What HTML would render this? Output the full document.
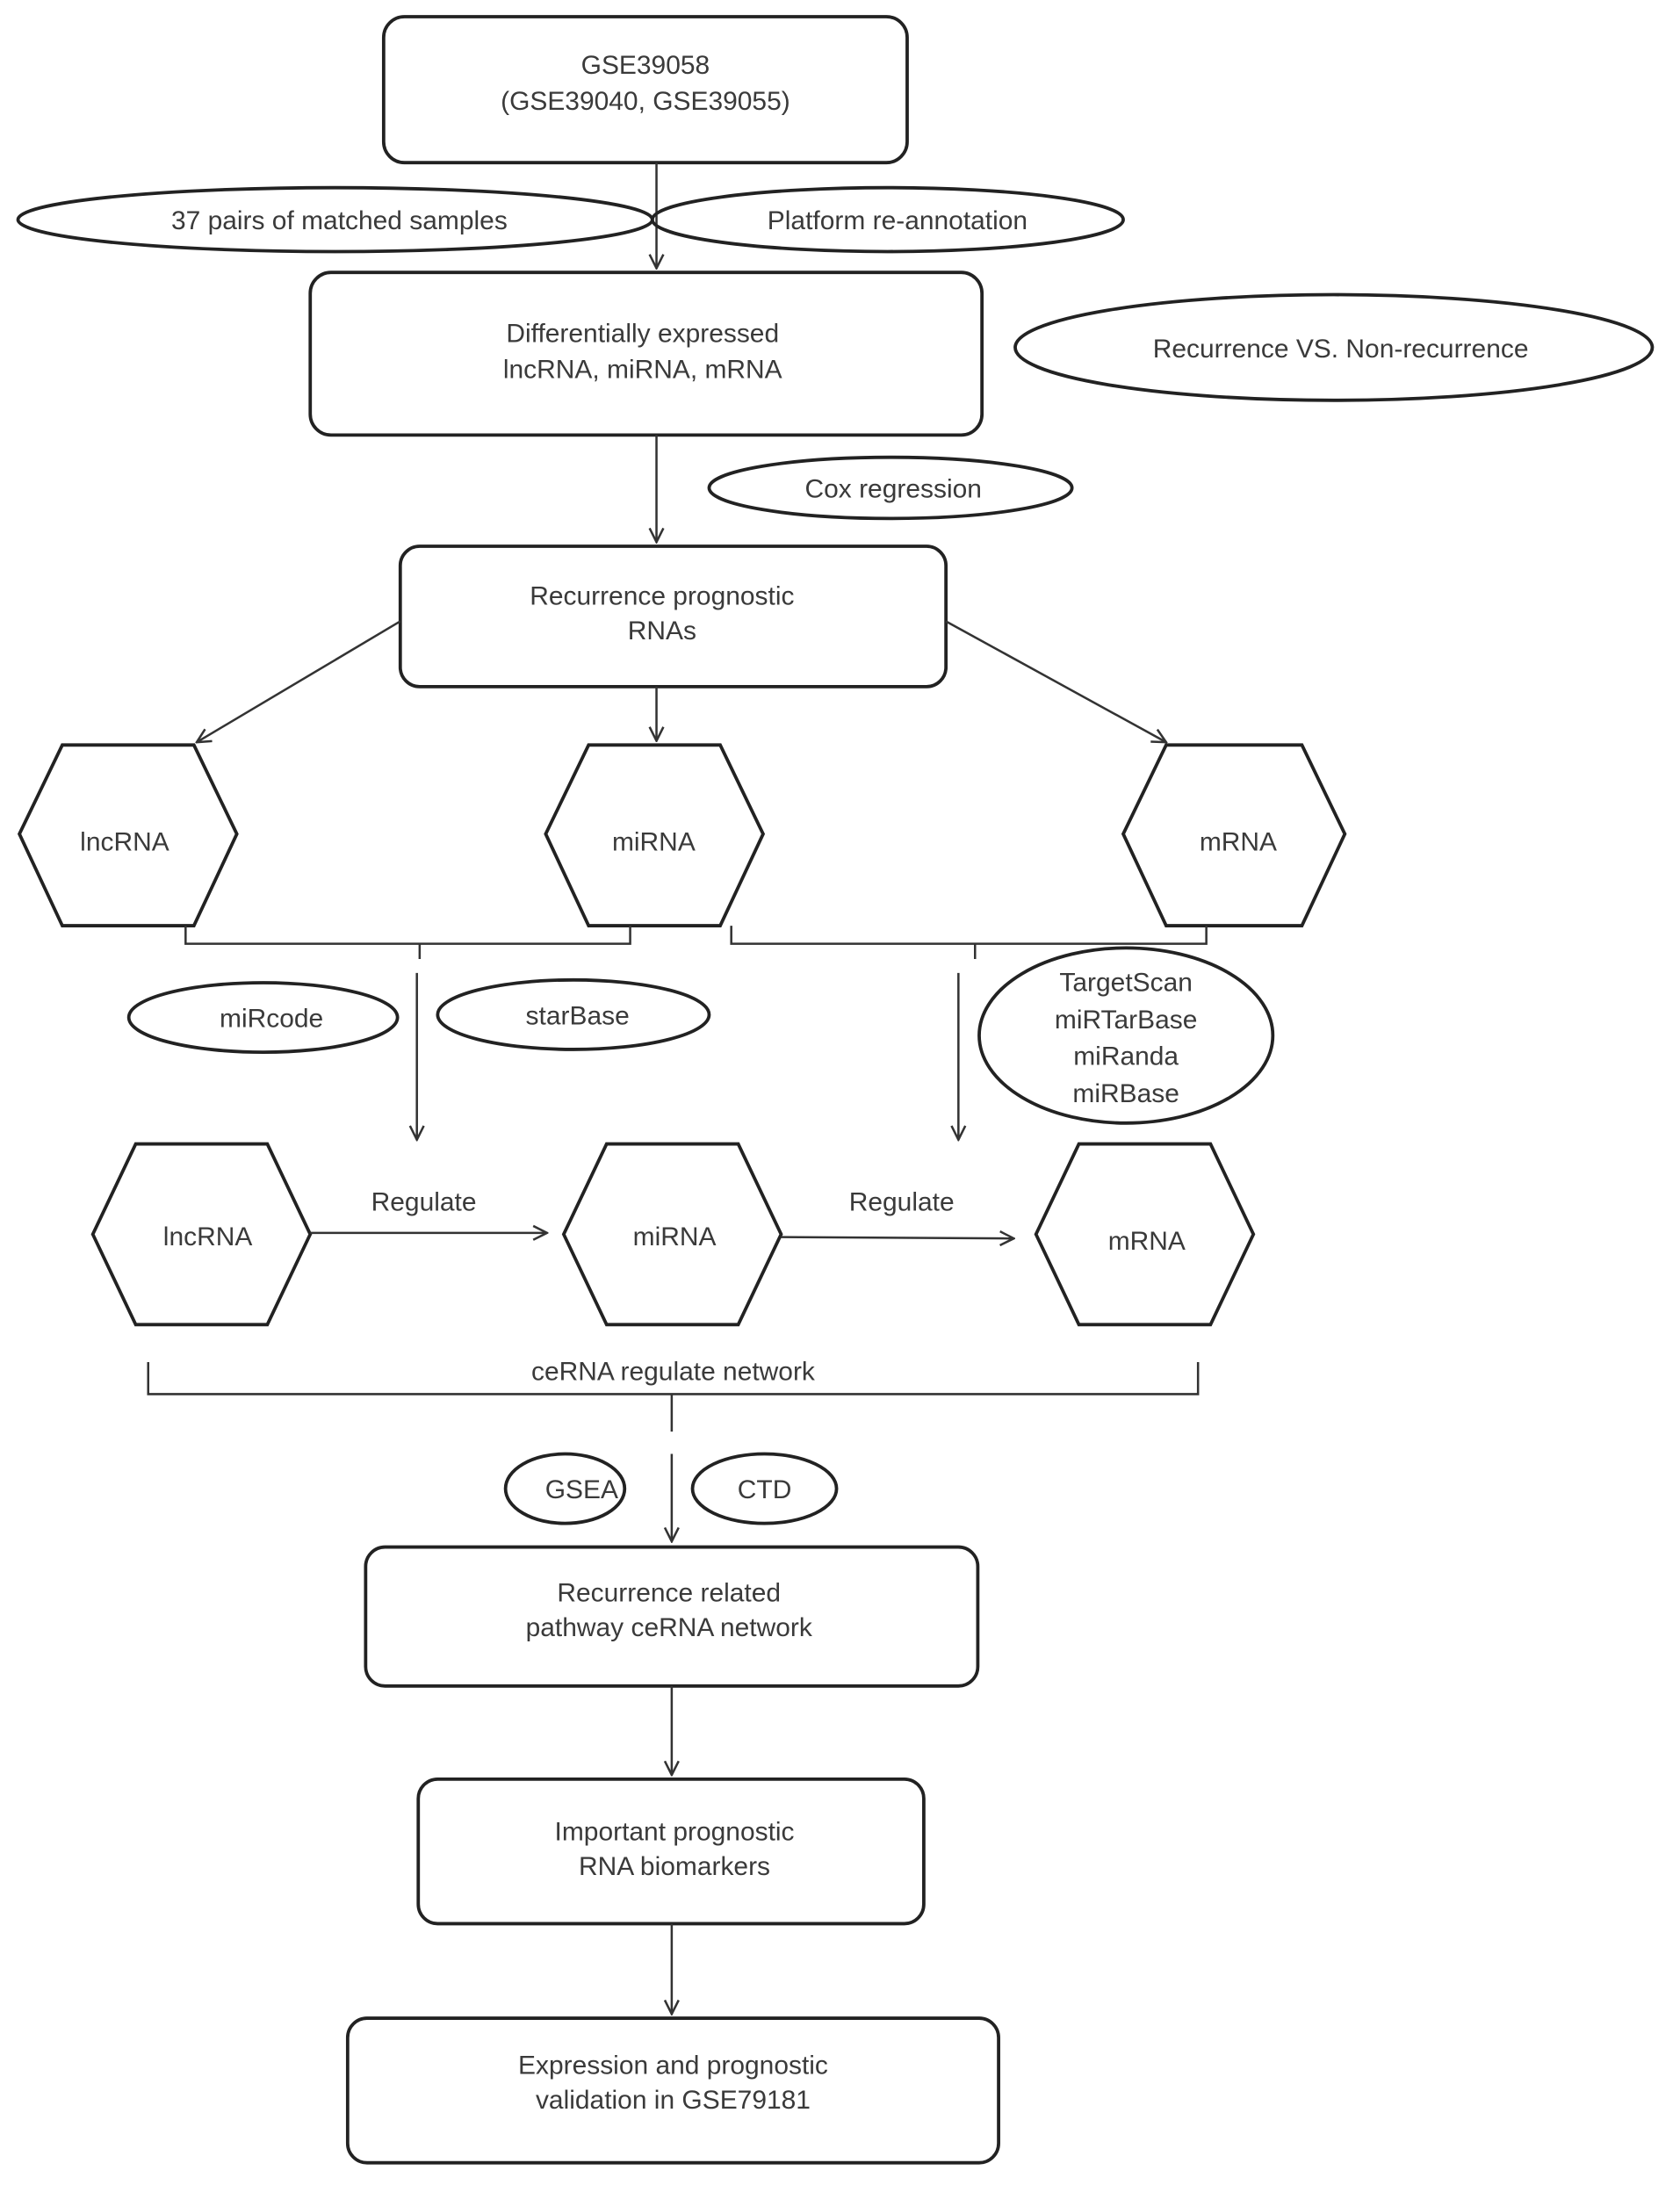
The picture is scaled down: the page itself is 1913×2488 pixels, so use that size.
<!DOCTYPE html>
<html><head><meta charset="utf-8"><style>
html,body{margin:0;padding:0;background:#fff;}
svg{display:block;}
text{font-family:"Liberation Sans",Arial,sans-serif;font-size:19px;fill:#3a3a3a;text-anchor:middle;}
.s{fill:none;stroke:#222;stroke-width:2.4;}
.l{fill:none;stroke:#333;stroke-width:1.6;}
</style></head><body>
<svg width="1913" height="2488" viewBox="0 0 1213 1572" preserveAspectRatio="none" xmlns="http://www.w3.org/2000/svg">
<defs><marker id="a" viewBox="0 0 12 12" refX="11" refY="6" markerWidth="12" markerHeight="12" markerUnits="userSpaceOnUse" orient="auto"><path d="M1,1 L11,6 L1,11" fill="none" stroke="#333" stroke-width="1.6"/></marker></defs>
<rect class="s" x="277" y="12" width="378" height="105" rx="15"/>
<text x="466" y="53">GSE39058</text><text x="466" y="79">(GSE39040, GSE39055)</text>
<line class="l" x1="474" y1="117" x2="474" y2="193" marker-end="url(#a)"/>
<ellipse class="s" cx="242" cy="158" rx="229" ry="23"/>
<ellipse class="s" cx="641" cy="158" rx="170" ry="23"/>
<text x="245" y="165">37 pairs of matched samples</text><text x="648" y="165">Platform re-annotation</text>
<rect class="s" x="224" y="196" width="485" height="117" rx="15"/>
<text x="464" y="246">Differentially expressed</text><text x="464" y="272">lncRNA, miRNA, mRNA</text>
<ellipse class="s" cx="963" cy="250" rx="230" ry="38"/><text x="968" y="257">Recurrence VS. Non-recurrence</text>
<line class="l" x1="474" y1="313" x2="474" y2="390" marker-end="url(#a)"/>
<ellipse class="s" cx="643" cy="351" rx="131" ry="22"/><text x="645" y="358">Cox regression</text>
<rect class="s" x="289" y="393" width="394" height="101" rx="14"/>
<text x="478" y="435">Recurrence prognostic</text><text x="478" y="460">RNAs</text>
<line class="l" x1="289" y1="447" x2="142" y2="534" marker-end="url(#a)"/>
<line class="l" x1="474" y1="494" x2="474" y2="533" marker-end="url(#a)"/>
<line class="l" x1="683" y1="447" x2="842" y2="534" marker-end="url(#a)"/>
<polygon class="s" points="14,600 45,536 140,536 171,600 140,666 45,666"/><text x="90" y="612">lncRNA</text>
<polygon class="s" points="394,600 425,536 520,536 551,600 520,666 425,666"/><text x="472" y="612">miRNA</text>
<polygon class="s" points="811,600 842,536 940,536 971,600 940,666 842,666"/><text x="894" y="612">mRNA</text>
<path class="l" d="M134,666 V679 H455 V666 M303,679 V690"/>
<path class="l" d="M528,666 V679 H871 V666 M704,679 V690"/>
<line class="l" x1="301" y1="700" x2="301" y2="820" marker-end="url(#a)"/>
<line class="l" x1="692" y1="700" x2="692" y2="820" marker-end="url(#a)"/>
<ellipse class="s" cx="190" cy="732" rx="97" ry="25"/><text x="196" y="739">miRcode</text>
<ellipse class="s" cx="414" cy="730" rx="98" ry="25"/><text x="417" y="737">starBase</text>
<ellipse class="s" cx="813" cy="745" rx="106" ry="63"/>
<text x="813" y="713">TargetScan</text><text x="813" y="740">miRTarBase</text><text x="813" y="766">miRanda</text><text x="813" y="793">miRBase</text>
<polygon class="s" points="67,888 98,823 193,823 224,888 193,953 98,953"/><text x="150" y="896">lncRNA</text>
<polygon class="s" points="407,888 438,823 533,823 564,888 533,953 438,953"/><text x="487" y="896">miRNA</text>
<polygon class="s" points="748,888 779,823 874,823 905,888 874,953 779,953"/><text x="828" y="899">mRNA</text>
<line class="l" x1="224" y1="887" x2="395" y2="887" marker-end="url(#a)"/><text x="306" y="871">Regulate</text>
<line class="l" x1="564" y1="890" x2="732" y2="891" marker-end="url(#a)"/><text x="651" y="871">Regulate</text>
<text x="486" y="993">ceRNA regulate network</text>
<path class="l" d="M107,980 V1003 H865 V980 M485,1003 V1030"/>
<line class="l" x1="485" y1="1046" x2="485" y2="1109" marker-end="url(#a)"/>
<ellipse class="s" cx="408" cy="1071" rx="43" ry="25"/><text x="420" y="1078">GSEA</text>
<ellipse class="s" cx="552" cy="1071" rx="52" ry="25"/><text x="552" y="1078">CTD</text>
<rect class="s" x="264" y="1113" width="442" height="100" rx="14"/>
<text x="483" y="1152">Recurrence related</text><text x="483" y="1177">pathway ceRNA network</text>
<line class="l" x1="485" y1="1213" x2="485" y2="1277" marker-end="url(#a)"/>
<rect class="s" x="302" y="1280" width="365" height="104" rx="14"/>
<text x="487" y="1324">Important prognostic</text><text x="487" y="1349">RNA biomarkers</text>
<line class="l" x1="485" y1="1384" x2="485" y2="1449" marker-end="url(#a)"/>
<rect class="s" x="251" y="1452" width="470" height="104" rx="14"/>
<text x="486" y="1492">Expression and prognostic</text><text x="486" y="1517">validation in GSE79181</text>
</svg>
</body></html>
